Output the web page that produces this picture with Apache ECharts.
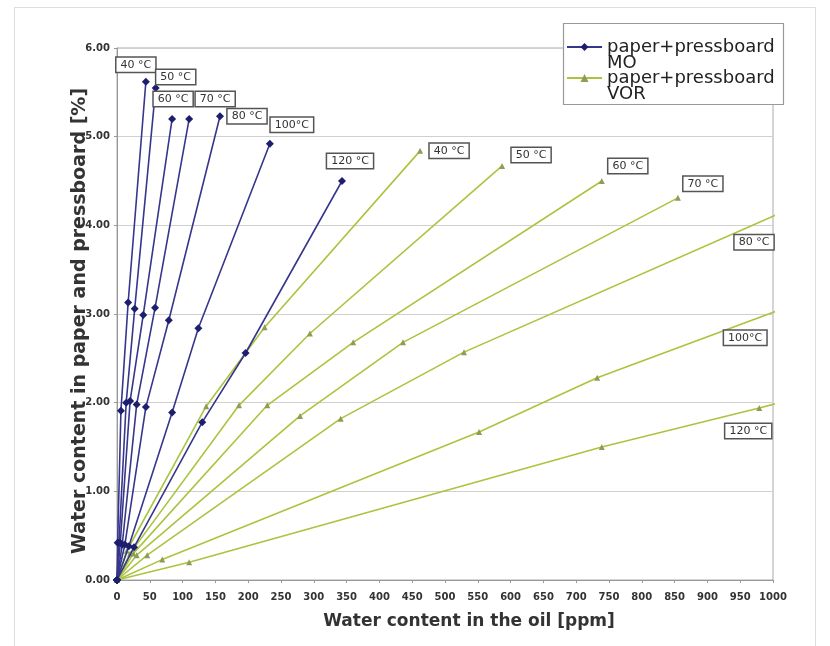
<!DOCTYPE html>
<html>
<head>
<meta charset="utf-8">
<script src="https://cdn.jsdelivr.net/npm/echarts@6/dist/echarts.min.js"></script>
<style>
html,body{margin:0;padding:0;background:#fff;}
#chart{width:830px;height:646px;}
</style>
</head>
<body>
<div id="chart"></div>
<script>
// ---- Data ----
const xTicks = [0, 1000, 50];        // x axis min, max, interval (ppm)
const yTicks = [0, 6, 1];            // y axis min, max, interval (%)
const moName = 'paper+pressboard\nMO';
const vorName = 'paper+pressboard\nVOR';
const temps = ['40 °C', '50 °C', '60 °C', '70 °C', '80 °C', '100°C', '120 °C'];

// paper+pressboard MO (water in oil ppm, water in paper %)
const mo40X = [0, 1, 6, 17, 44];      const mo40Y = [0, 0.42, 1.91, 3.13, 5.62];
const mo50X = [0, 3, 14, 27, 59];     const mo50Y = [0, 0.42, 2.00, 3.06, 5.55];
const mo60X = [0, 5, 20, 40, 84];     const mo60Y = [0, 0.42, 2.02, 2.99, 5.20];
const mo70X = [0, 8, 30, 58, 110];    const mo70Y = [0, 0.40, 1.98, 3.07, 5.20];
const mo80X = [0, 12, 44, 79, 157];   const mo80Y = [0, 0.40, 1.95, 2.93, 5.23];
const mo100X = [0, 18, 84, 124, 233]; const mo100Y = [0, 0.38, 1.89, 2.84, 4.92];
const mo120X = [0, 26, 130, 196, 343];const mo120Y = [0, 0.37, 1.78, 2.56, 4.50];

// paper+pressboard VOR
const vor40X = [0, 15, 136, 225, 462];   const vor40Y = [0, 0.33, 1.96, 2.85, 4.84];
const vor50X = [0, 20, 186, 294, 587];   const vor50Y = [0, 0.30, 1.97, 2.78, 4.67];
const vor60X = [0, 25, 229, 360, 739];   const vor60Y = [0, 0.30, 1.97, 2.68, 4.50];
const vor70X = [0, 30, 279, 436, 855];   const vor70Y = [0, 0.28, 1.85, 2.68, 4.31];
const vor80X = [0, 46, 341, 529, 1150];  const vor80Y = [0, 0.28, 1.82, 2.57, 4.59];
const vor100X = [0, 69, 552, 732, 1200]; const vor100Y = [0, 0.23, 1.67, 2.28, 3.57];
const vor120X = [0, 110, 739, 979, 1200];const vor120Y = [0, 0.20, 1.50, 1.94, 2.37];

// ---- Layout of the temperature tags (point index + pixel offset) ----
const moTagIdx = [4, 4, 4, 4, 4, 4, 4];
const moTagOff = [[-10, -17], [20, -11], [1, -20], [26, -20], [27, 0], [22, -19], [8, -20]];
const vorTagIdx = [4, 4, 4, 4, 3, 3, 3];
const vorTagOff = [[29, 0], [29, -11], [26, -15], [25, -14], [290, -110], [148, -40], [-11, 23]];

const moXs = [mo40X, mo50X, mo60X, mo70X, mo80X, mo100X, mo120X];
const moYs = [mo40Y, mo50Y, mo60Y, mo70Y, mo80Y, mo100Y, mo120Y];
const vorXs = [vor40X, vor50X, vor60X, vor70X, vor80X, vor100X, vor120X];
const vorYs = [vor40Y, vor50Y, vor60Y, vor70Y, vor80Y, vor100Y, vor120Y];

const BLUE = '#36368c';
const GREEN = '#aac43e';
const GREEN_MK = '#8e9c55';

const tagStyle = {
  show: true,
  position: 'inside',
  backgroundColor: '#fff',
  borderColor: '#555',
  borderWidth: 1.5,
  padding: [2, 4, 1, 4],
  fontFamily: 'DejaVu Sans',
  fontSize: 11,
  color: '#333'
};

function buildSeries(name, xs, ys, tag, tagIdx, tagOff, color, mkColor, symbol, symbolSize, z) {
  return {
    type: 'line',
    name: name,
    symbol: symbol,
    symbolSize: symbolSize,
    showAllSymbol: true,
    clip: true,
    z: z,
    lineStyle: { color: color, width: 1.6 },
    itemStyle: { color: mkColor },
    emphasis: { disabled: true },
    data: xs.map(function (x, i) {
      if (i === tagIdx) {
        return {
          value: [x, ys[i]],
          label: Object.assign({}, tagStyle, { formatter: tag, offset: tagOff })
        };
      }
      return [x, ys[i]];
    })
  };
}

const series = [];
for (let i = 0; i < vorXs.length; i++) {
  series.push(buildSeries(vorName, vorXs[i], vorYs[i], temps[i], vorTagIdx[i], vorTagOff[i],
    GREEN, GREEN_MK, 'triangle', 6, 2));
}
for (let i = 0; i < moXs.length; i++) {
  series.push(buildSeries(moName, moXs[i], moYs[i], temps[i], moTagIdx[i], moTagOff[i],
    BLUE, '#1e1e6e', 'diamond', 8, 3));
}

const chart = echarts.init(document.getElementById('chart'), null, { renderer: 'canvas' });
chart.setOption({
  animation: false,
  backgroundColor: '#fff',
  grid: { left: 117, right: 57, top: 48, bottom: 66, show: true, borderColor: '#aaa', borderWidth: 1 },
  graphic: [
    { type: 'rect', z: 0, silent: true, shape: { x: 14.5, y: 7.5, width: 801, height: 660 },
      style: { fill: 'none', stroke: '#ddd', lineWidth: 1 } },
    { type: 'rect', z: 50, silent: true, shape: { x: 563.5, y: 23.5, width: 220, height: 81 },
      style: { fill: '#fff', stroke: '#999', lineWidth: 1.2 } }
  ],
  legend: {
    data: [moName, vorName],
    orient: 'vertical',
    left: 566,
    top: 22,
    padding: 0,
    z: 60,
    itemWidth: 35,
    itemHeight: 10,
    itemGap: -19,
    selectedMode: false,
    formatter: function (name) { return ' \n' + name; },
    textStyle: { fontFamily: 'DejaVu Sans', fontSize: 18, lineHeight: 16, color: '#222' }
  },
  xAxis: {
    type: 'value',
    min: xTicks[0], max: xTicks[1], interval: xTicks[2],
    name: 'Water content in the oil [ppm]',
    nameLocation: 'middle',
    nameGap: 33,
    nameMoveOverlap: false,
    nameTextStyle: { fontFamily: 'DejaVu Sans', fontWeight: 'bold', fontSize: 17, color: '#333', padding: [0, 0, 0, 48] },
    axisLine: { show: true, lineStyle: { color: '#999' } },
    axisTick: { show: true, length: 3, lineStyle: { color: '#999' } },
    axisLabel: { interval: 0, hideOverlap: false, margin: 12, fontFamily: 'DejaVu Sans', fontWeight: 'bold', fontSize: 10, color: '#333',
      formatter: function (v) { return String(v); } },
    splitLine: { show: false }
  },
  yAxis: {
    type: 'value',
    min: yTicks[0], max: yTicks[1], interval: yTicks[2],
    name: 'Water content in paper and pressboard [%]',
    nameLocation: 'middle',
    nameGap: 27,
    nameMoveOverlap: false,
    nameTextStyle: { fontFamily: 'DejaVu Sans', fontWeight: 'bold', fontSize: 19, color: '#333', padding: [0, 14, 0, 0] },
    axisLine: { show: true, lineStyle: { color: '#999' } },
    axisTick: { show: true, length: 3, lineStyle: { color: '#999' } },
    axisLabel: { margin: 7, fontFamily: 'DejaVu Sans', fontWeight: 'bold', fontSize: 10, color: '#333',
      formatter: function (v) { return v.toFixed(2); } },
    splitLine: { show: true, lineStyle: { color: '#d0d0d0', width: 1 } }
  },
  series: series
});
</script>
</body>
</html>
